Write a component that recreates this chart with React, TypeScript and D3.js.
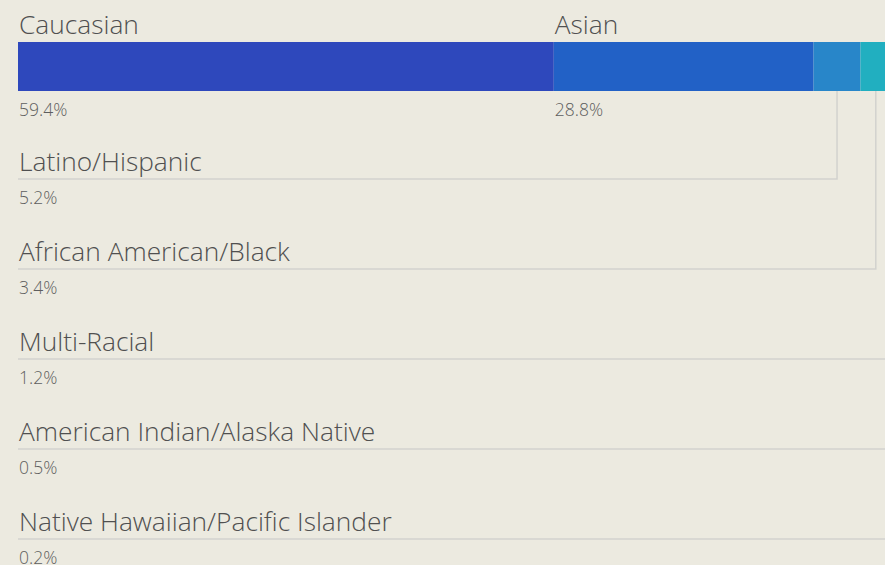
import React, { useEffect, useRef } from "react";
import * as d3 from "d3";

const categories = [
  "Caucasian",
  "Asian",
  "Latino/Hispanic",
  "African American/Black",
  "Multi-Racial",
  "American Indian/Alaska Native",
  "Native Hawaiian/Pacific Islander",
];
const values = [59.4, 28.8, 5.2, 3.4, 1.2, 0.5, 0.2];
const valueLabels = ["59.4%", "28.8%", "5.2%", "3.4%", "1.2%", "0.5%", "0.2%"];
const colors = ["#2e48bc", "#2261c6", "#2886c9", "#21afc0", "#22bfae", "#2ac79a", "#3ccf84"];

const W = 885;
const H = 565;

export default function App() {
  const ref = useRef<SVGSVGElement>(null);

  useEffect(() => {
    const svg = d3.select(ref.current);
    svg.selectAll("*").remove();

    const font = "'Segoe UI', 'Open Sans', 'Noto Sans', sans-serif";
    const labelColor = "#505050";
    const valueColor = "#5e5e5e";
    const lineColor = "#d2d2ce";
    const labelSize = 26.3;
    const valueSize = 17.5;

    svg.append("rect").attr("width", W).attr("height", H).attr("fill", "#eceae0");

    const x = d3.scaleLinear().domain([0, 100]).range([18, 920]);
    const starts: number[] = [];
    let acc = 0;
    values.forEach((v) => {
      starts.push(acc);
      acc += v;
    });

    const barTop = 42;
    const barBottom = 91;

    const rowY = d3.scaleLinear().domain([2, 6]).range([179, 539]);
    const g = svg.append("g");
    categories.forEach((c, i) => {
      if (i < 2) return;
      const y = rowY(i);
      const cx = x(starts[i] + values[i] / 2);
      g.append("path")
        .attr("d", `M18,${y}H${cx}V${barBottom}`)
        .attr("fill", "none")
        .attr("stroke", lineColor)
        .attr("stroke-width", 1.5);
      g.append("text")
        .attr("x", 19)
        .attr("y", y - 8)
        .attr("font-family", font)
        .attr("font-weight", 300)
        .attr("font-size", labelSize)
        .attr("fill", labelColor)
        .text(c);
      g.append("text")
        .attr("x", 19)
        .attr("y", y + 25)
        .attr("font-family", font)
        .attr("font-weight", 300)
        .attr("font-size", valueSize)
        .attr("fill", valueColor)
        .text(valueLabels[i]);
    });

    svg
      .append("g")
      .selectAll("rect")
      .data(values)
      .join("rect")
      .attr("x", (d, i) => x(starts[i]))
      .attr("y", barTop)
      .attr("width", (d) => x(d) - x(0))
      .attr("height", barBottom - barTop)
      .attr("fill", (d, i) => colors[i]);

    [0, 1].forEach((i) => {
      const sx = x(starts[i]) + 1;
      svg
        .append("text")
        .attr("x", sx)
        .attr("y", 34)
        .attr("font-family", font)
        .attr("font-weight", 300)
        .attr("font-size", labelSize)
        .attr("fill", labelColor)
        .text(categories[i]);
      svg
        .append("text")
        .attr("x", sx)
        .attr("y", 116)
        .attr("font-family", font)
        .attr("font-weight", 300)
        .attr("font-size", valueSize)
        .attr("fill", valueColor)
        .text(valueLabels[i]);
    });
  }, []);

  return (
    <div style={{ position: "absolute", left: 0, top: 0 }}>
      <svg ref={ref} width={W} height={H} style={{ display: "block" }} />
    </div>
  );
}
